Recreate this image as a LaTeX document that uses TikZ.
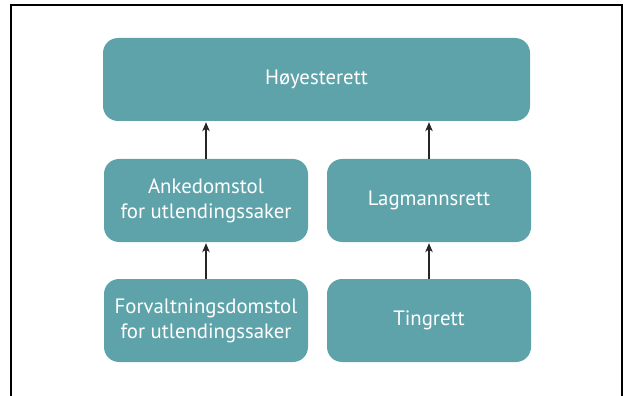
\documentclass[tikz,border=0pt]{standalone}
\usepackage{fontspec}
\setmainfont{PT Sans}
\usetikzlibrary{arrows.meta}
\begin{document}
\begin{tikzpicture}[x=1pt,y=-1pt,
  court/.style={fill=courtteal, draw=none, rounded corners=15pt, text=white,
    align=center, font=\fontsize{20.8}{25}\selectfont, inner sep=0pt},
  appeal/.style={-{Stealth[length=9pt,width=7.5pt,inset=2.5pt]}, line width=1.2pt, draw=black!85, shorten >=1pt}]
\definecolor{courtteal}{HTML}{5FA3AA}
\useasboundingbox (0,0) rectangle (625,396);
% frame around the chart, open at the bottom
\draw[line width=2pt] (11,396) -- (11,5) -- (622,5) -- (622,396);
% courts
\node[court, minimum width=427pt, minimum height=83pt] (hr) at (316.5,79.5) {Høyesterett};
\node[court, minimum width=204pt, minimum height=83pt] (ak) at (206,200.5) {Ankedomstol\\for utlendingssaker};
\node[court, minimum width=204pt, minimum height=83pt] (lr) at (429,200.5) {Lagmannsrett};
\node[court, minimum width=204pt, minimum height=83pt] (fd) at (206,320.5) {Forvaltningsdomstol\\for utlendingssaker};
\node[court, minimum width=204pt, minimum height=83pt] (tr) at (429,320.5) {Tingrett};
% appeal routes
\draw[appeal] (ak.north) -- (ak.north |- hr.south);
\draw[appeal] (lr.north) -- (lr.north |- hr.south);
\draw[appeal] (fd.north) -- (ak.south);
\draw[appeal] (tr.north) -- (lr.south);
\end{tikzpicture}
\end{document}
